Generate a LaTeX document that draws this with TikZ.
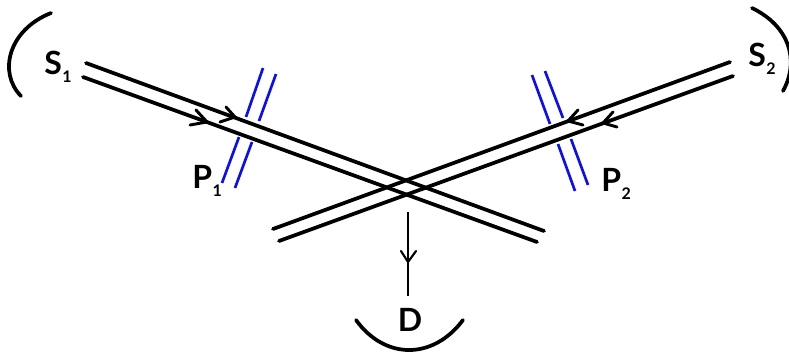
\documentclass[tikz,border=0pt]{standalone}
\usepackage{fontspec}
\setsansfont{Lato}
\usepackage{xcolor}
\usetikzlibrary{arrows.meta,calc,positioning}
\definecolor{plateblue}{rgb}{0.05,0.05,0.95}
\tikzset{
  beam/.style={line width=2.8pt,line cap=round},
  barb/.style={line width=2.2pt,line cap=round,line join=round},
  plate/.style={plateblue,line width=2pt},
  mirror/.style={line width=2.8pt,line cap=round},
  label/.style={inner sep=0pt,font=\sffamily\bfseries\fontsize{24}{24}\selectfont},
}
\newcommand{\lowsub}[1]{\hspace{0.5pt}\raisebox{-6pt}{\fontsize{12}{12}\selectfont #1}}
\begin{document}
\begin{tikzpicture}[x=0.75pt,y=-0.75pt]
        \useasboundingbox (0,0) rectangle (789,351);
        %Beam ends
        \coordinate (a1) at (86,63);
        \coordinate (a2) at (544,231);
        \coordinate (b1) at (83,77);
        \coordinate (b2) at (537,242);
        \coordinate (c1) at (730,62);
        \coordinate (c2) at (273,229);
        \coordinate (d1) at (733,76);
        \coordinate (d2) at (279,241);
        %Arrow tips
        \coordinate (ta) at (235,117);
        \coordinate (tb) at (207,122);
        \coordinate (tc) at (568,121);
        \coordinate (td) at (603,123);
        %Draw beams
        \draw[beam] (a1) -- (a2);
        \draw[beam] (b1) -- (b2);
        \draw[beam] (c1) -- (c2);
        \draw[beam] (d1) -- (d2);
        \draw[barb] (226,107) -- (ta) -- (220,122);
        \draw[barb] (196,110) -- (tb) -- (190,125);
        \draw[barb] (578,110) -- (tc) -- (583,125);
        \draw[barb] (613,112) -- (td) -- (617,127);
        %Plate P1
        \draw[plate] (263,68) -- (246,117);
        \draw[plate] (239,137) -- (222,183);
        \draw[plate] (276,74) -- (259,121);
        \draw[plate] (252,142) -- (235,188);
        %Plate P2
        \draw[plate] (532,75) -- (550,124);
        \draw[plate] (558,144) -- (575,191);
        \draw[plate] (545,71) -- (563,118);
        \draw[plate] (571,139) -- (588,185);
        %Mirrors
        \draw[mirror] (51,13) .. controls (8,30) and (-2,73) .. (21,96);
        \draw[mirror] (752,8) .. controls (789,26) and (800,60) .. (783,91);
        \draw[mirror] (356,320) .. controls (385,360) and (433,360) .. (463,320);
        %Labels
        \node[label,anchor=west] (s1) at (44,67) {S\lowsub{1}};
        \node[label,anchor=west] (s2) at (748,59) {S\lowsub{2}};
        \node[label,anchor=west] (p1) at (192,181) {P\lowsub{1}};
        \node[label,anchor=west] (p2) at (601,184) {P\lowsub{2}};
        \node[label] (det) at (410,320) {D};
        %Output
        \coordinate (o1) at (408,212);
        \coordinate (o2) at (408,296);
        \coordinate (o3) at (408,262);
        \draw[line width=1.6pt] (o1) -- (o2);
        \draw[line width=1.6pt,line cap=round] (401,251) -- (o3) -- (416,251);
\end{tikzpicture}
\end{document}
